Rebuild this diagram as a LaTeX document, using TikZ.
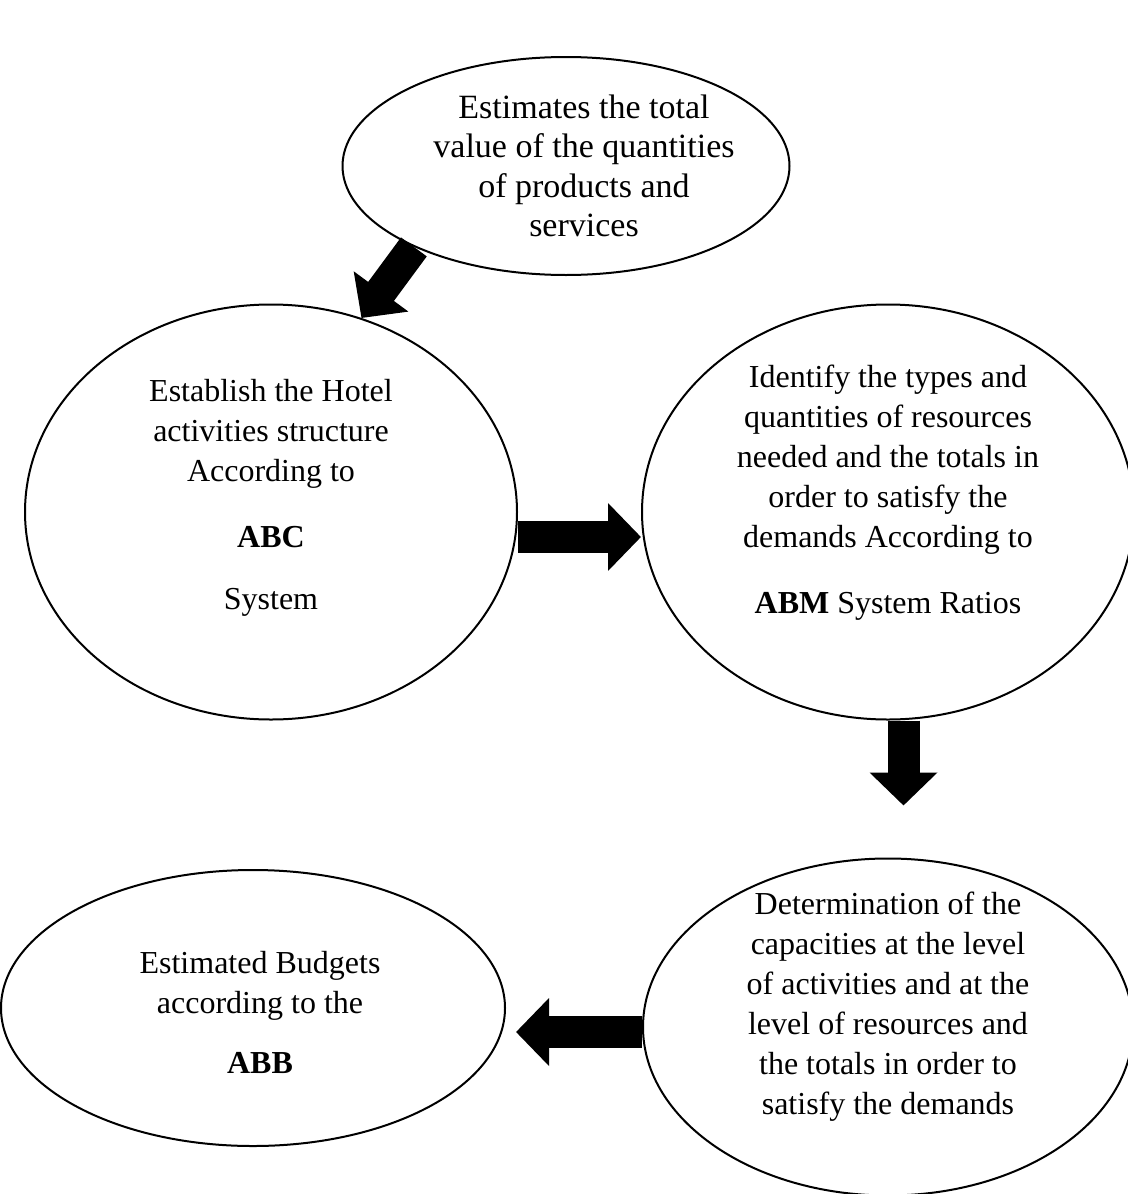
\documentclass[tikz,border=0pt]{standalone}
\usepackage{fontspec}
\setmainfont{Liberation Serif}
\usetikzlibrary{positioning,shapes,arrows.meta}

\begin{document}
\begin{tikzpicture}[
  x=0.5pt, y=-0.5pt,
  myellipse/.style={draw,ellipse,line width=1pt,inner sep=0pt},
  mytext/.style={align=center,inner sep=0pt},
  myarrow/.style={line width=16pt,-{Triangle[width=33pt,length=16.5pt]}},
  font=\fontsize{16}{20}\selectfont
]
\useasboundingbox (0,0) rectangle (1128,1194);
% the five ellipses
\node[myellipse,minimum width=223.5pt,minimum height=109pt] (T) at (566,166) {};
\node[myellipse,minimum width=246pt,minimum height=207.5pt] (L) at (271,512) {};
\node[myellipse,minimum width=246pt,minimum height=207.5pt,right=61.5pt of L] (R) {};
\node[myellipse,minimum width=245pt,minimum height=168.5pt,below=68.5pt of R] (BR) {};
\node[myellipse,minimum width=252pt,minimum height=138pt] (BL) at (253,1008) {};
% their texts
\node[mytext,xshift=9pt,font=\fontsize{17}{19.7}\selectfont] (Ttext) at (T)
  {Estimates the total\\value of the quantities\\of products and\\services};
\node[mytext,yshift=7pt] (Ltext) at (L)
  {Establish the Hotel\\activities structure\\According to\\[13pt]\textbf{ABC}\\[11pt]System};
\node[mytext,yshift=9.5pt] (Rtext) at (R)
  {Identify the types and\\quantities of resources\\needed and the totals in\\order to satisfy the\\demands According to\\[13pt]\textbf{ABM} System Ratios};
\node[mytext,yshift=10pt] (BRtext) at (BR)
  {Determination of the\\capacities at the level\\of activities and at the\\level of resources and\\the totals in order to\\satisfy the demands};
\node[mytext,xshift=3.5pt,yshift=-2pt] (BLtext) at (BL)
  {Estimated Budgets\\according to the\\[10pt]\textbf{ABB}};
% block arrows
\draw[myarrow] (T.208) -- (L.65);
\draw[myarrow] ([yshift=-12.5pt]L.east) -- ([yshift=-12.5pt]R.west);
\draw[myarrow,shorten >=26pt] ([xshift=7.75pt]R.south) -- ([xshift=7.75pt]BR.north);
\draw[myarrow,shorten >=5pt] ([yshift=-2.5pt]BR.west) -- ([yshift=-2.5pt]BR.west -| BL.east);
\end{tikzpicture}
\end{document}
